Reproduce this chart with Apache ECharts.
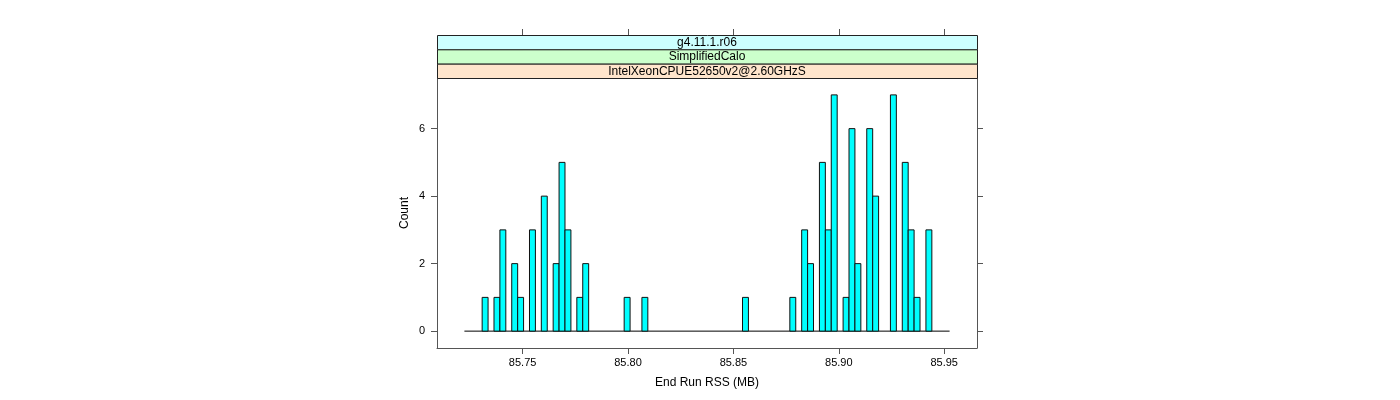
<!DOCTYPE html>
<html>
<head>
<meta charset="utf-8">
<script src="https://cdn.jsdelivr.net/npm/echarts@6/dist/echarts.min.js"></script>
<style>
html,body{margin:0;padding:0;background:#fff;}
#chart{width:1400px;height:400px;}
</style>
</head>
<body>
<div id="chart"></div>
<script>
// ---- data ----
const binStart = 85.72239;   // first histogram break (MB)
const binWidth = 0.002807;   // histogram bin width (MB)
const counts = [
  0,0,0,1,0,1,3,0,2,1,
  0,3,0,4,0,2,5,3,0,1,
  2,0,0,0,0,0,0,1,0,0,
  1,0,0,0,0,0,0,0,0,0,
  0,0,0,0,0,0,0,1,0,0,
  0,0,0,0,0,1,0,3,2,0,
  5,3,7,0,1,6,2,0,6,4,
  0,0,7,0,5,3,1,0,3,0,
  0,0
];
const xTicks = [85.75, 85.80, 85.85, 85.90, 85.95];
const yTicks = [0, 2, 4, 6];
// strips listed from top to bottom
const stripLabels = ['g4.11.1.r06', 'SimplifiedCalo', 'IntelXeonCPUE52650v2@2.60GHzS'];
const stripColors = ['#CCFFFF', '#CCFFCC', '#FFE5CC'];
const xName = 'End Run RSS (MB)';
const yName = 'Count';

// ---- build ----
const bins = [];
counts.forEach((c, i) => {
  if (c > 0) bins.push([binStart + i * binWidth, binStart + (i + 1) * binWidth, c]);
});
const binEnd = binStart + counts.length * binWidth;

const G = {left: 437, top: 78, width: 540, height: 270};
const stripH = 14.33;
const font = 'Liberation Sans, Arial, Helvetica, sans-serif';
const axisCol = '#555';

const graphics = [];
stripLabels.forEach((lab, i) => {
  const top = G.top - stripH * (stripLabels.length - i);
  graphics.push({
    type: 'rect', left: G.left, top: top, z: 10,
    shape: {width: G.width, height: stripH},
    style: {fill: stripColors[i], stroke: '#222', lineWidth: 1}
  });
  graphics.push({
    type: 'text', x: G.left + G.width / 2, y: top + stripH / 2 + 0.5, z: 11,
    style: {text: lab, fill: '#000', font: '12px ' + font, textAlign: 'center', textVerticalAlign: 'middle'}
  });
});

const chart = echarts.init(document.getElementById('chart'), null, {renderer: 'canvas'});
chart.setOption({
  backgroundColor: '#fff',
  animation: false,
  grid: {left: G.left, top: G.top, width: G.width, height: G.height, containLabel: false},
  xAxis: [{
    type: 'value', position: 'bottom', min: 85.70939, max: 85.96556,
    name: xName, nameLocation: 'middle', nameGap: 29,
    nameTextStyle: {fontSize: 12, fontFamily: font, color: '#000'},
    axisLine: {show: true, onZero: false, lineStyle: {color: axisCol, width: 1}},
    axisTick: {show: true, length: 6, customValues: xTicks, lineStyle: {color: axisCol}},
    axisLabel: {show: true, customValues: xTicks, fontSize: 11, fontFamily: font, color: '#000', margin: 9,
      formatter: v => v.toFixed(2)},
    splitLine: {show: false}
  }, {
    type: 'value', position: 'top', offset: 43, min: 85.70939, max: 85.96556,
    axisLine: {show: false, onZero: false},
    axisTick: {show: true, length: 6, customValues: xTicks, lineStyle: {color: axisCol}},
    axisLabel: {show: false},
    splitLine: {show: false}
  }],
  yAxis: [{
    type: 'value', position: 'left', min: -0.5, max: 7.5,
    name: yName, nameLocation: 'middle', nameGap: 26, nameRotate: 90,
    nameTextStyle: {fontSize: 12, fontFamily: font, color: '#000'},
    axisLine: {show: true, onZero: false, lineStyle: {color: axisCol, width: 1}},
    axisTick: {show: true, length: 6, customValues: yTicks, lineStyle: {color: axisCol}},
    axisLabel: {show: true, customValues: yTicks, fontSize: 11, fontFamily: font, color: '#000', margin: 12},
    splitLine: {show: false}
  }, {
    type: 'value', position: 'right', min: -0.5, max: 7.5,
    axisLine: {show: true, onZero: false, lineStyle: {color: axisCol, width: 1}},
    axisTick: {show: true, length: 6, customValues: yTicks, lineStyle: {color: axisCol}},
    axisLabel: {show: false},
    splitLine: {show: false}
  }],
  series: [{
    type: 'line', xAxisIndex: 0, yAxisIndex: 0, z: 1,
    data: [[binStart, 0], [binEnd, 0]],
    symbol: 'none', lineStyle: {color: '#000', width: 1}, silent: true
  }, {
    type: 'custom', xAxisIndex: 0, yAxisIndex: 0, z: 2,
    data: bins,
    encode: {x: [0, 1], y: 2},
    renderItem: function (params, api) {
      const p0 = api.coord([api.value(0), api.value(2)]);
      const p1 = api.coord([api.value(1), 0]);
      return {
        type: 'rect',
        shape: {x: p0[0], y: p0[1], width: p1[0] - p0[0], height: p1[1] - p0[1]},
        style: {fill: '#00FFFF', stroke: '#111', lineWidth: 1}
      };
    }
  }],
  graphic: graphics
});
</script>
</body>
</html>
